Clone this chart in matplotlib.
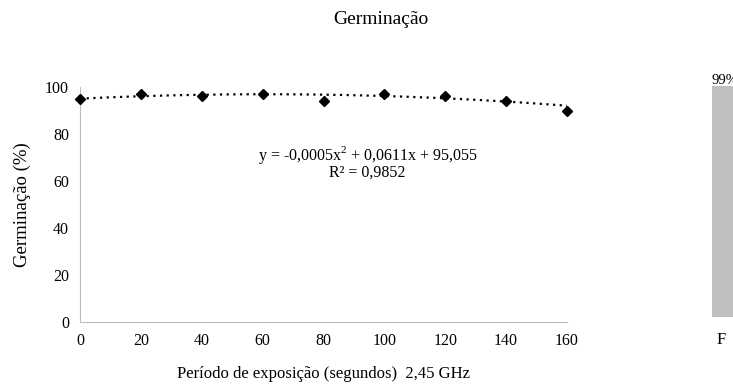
import numpy as np
import matplotlib.pyplot as plt

# exposure time (s) and germination (%)
periodo = [0, 20, 40, 60, 80, 100, 120, 140, 160]
germinacao = [95, 97, 96, 97, 94, 97, 96, 94, 90]

# quadratic trendline shown on the chart
coef = [-0.0005, 0.0611, 95.055]
r2_txt = "R² = 0,9852"
eq_txt = "y = -0,0005x$^2$ + 0,0611x + 95,055"

# neighbouring chart, cut off at the right edge
viz_cat = ["F"]
viz_val = [99]

plt.rcParams["font.family"] = ["Liberation Serif", "DejaVu Serif"]
plt.rcParams["mathtext.fontset"] = "custom"
plt.rcParams["mathtext.rm"] = "Liberation Serif"

W, H = 733, 387
fig = plt.figure(figsize=(W / 100, H / 100), dpi=100)

ax = fig.add_axes([80 / W, (H - 322) / H, (567 - 80) / W, (322 - 87) / H])
xx = np.linspace(0, 160, 200)
ax.plot(xx, np.polyval(coef, xx), color="black", linestyle=(0, (1, 2)), linewidth=1.6)
ax.plot(periodo, germinacao, linestyle="none", marker="D", markersize=5.5,
        color="black", clip_on=False, zorder=3)

ax.set_xlim(0, 160)
ax.set_ylim(0, 100)
ax.set_xticks(range(0, 161, 20))
ax.set_yticks(range(0, 101, 20))
ax.tick_params(length=0, labelsize=11.5, pad=8)
for s in ["top", "right"]:
    ax.spines[s].set_visible(False)
for s in ["left", "bottom"]:
    ax.spines[s].set_color("#bfbfbf")
ax.set_xlabel("Período de exposição (segundos)  2,45 GHz", fontsize=12, labelpad=12)
ax.set_ylabel("Germinação (%)", fontsize=13.5, labelpad=10)

ax.text(94.5, 71, eq_txt, ha="center", va="center", fontsize=11.5)
ax.text(94.5, 63.5, r2_txt, ha="center", va="center", fontsize=11.5)

fig.text(381 / W, 1 - 20 / H, "Germinação", ha="center", va="center", fontsize=14)

# partial bar from the chart next to this one
ax2 = fig.add_axes([712 / W, (H - 317) / H, 0.1, (317 - 86) / H])
ax2.bar([0], viz_val, width=1, color="#bfbfbf")
ax2.set_xlim(-0.5, 2)
ax2.set_ylim(0, viz_val[0])
ax2.axis("off")
fig.text(711 / W, 1 - 80 / H, f"{viz_val[0]}%", ha="left", va="center", fontsize=10.5)
fig.text(717 / W, 1 - 340 / H, viz_cat[0], ha="left", va="center", fontsize=12)

fig.savefig("out.png", dpi=100)
